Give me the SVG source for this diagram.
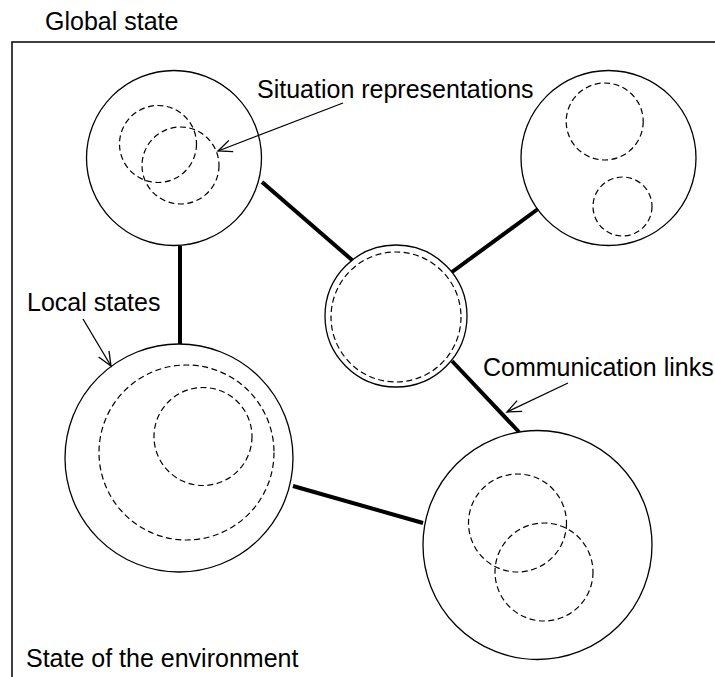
<svg xmlns="http://www.w3.org/2000/svg" width="715" height="677" viewBox="0 0 715 677">
<style>
.t{font-family:"Liberation Sans",Arial,sans-serif;font-size:25px;fill:#000}
.c{fill:none;stroke:#000;stroke-width:1.3}
.d{fill:none;stroke:#000;stroke-width:1.2;stroke-dasharray:6,3.5}
.l{stroke:#000;stroke-width:4;stroke-linecap:butt}
.a{stroke:#000;stroke-width:1.3;fill:none}
</style>
<defs>
<marker id="ah" viewBox="0 0 20 20" refX="18" refY="10" markerWidth="20" markerHeight="20" markerUnits="userSpaceOnUse" orient="auto">
<polyline points="4,4 18,10 4,16" fill="none" stroke="#000" stroke-width="1.3"/>
</marker>
</defs>
<rect x="0" y="0" width="715" height="677" fill="#fff"/>
<path d="M12,677 V42 H715" fill="none" stroke="#000" stroke-width="1.5"/>
<g id="connectors">
<line class="l" x1="180" y1="246" x2="180" y2="344"/>
<line class="l" x1="262" y1="182" x2="352" y2="260"/>
<line class="l" x1="538" y1="209" x2="452" y2="272"/>
<line class="l" x1="452" y1="361" x2="519" y2="432"/>
<line class="l" x1="293" y1="486" x2="423" y2="523"/>
<line class="a" x1="343" y1="103" x2="218" y2="151" marker-end="url(#ah)"/>
<line class="a" x1="83" y1="319" x2="111" y2="366" marker-end="url(#ah)"/>
<line class="a" x1="568" y1="383" x2="507" y2="412" marker-end="url(#ah)"/>
</g>
<g id="node-top-left">
<circle class="c" cx="174" cy="158" r="87.5"/>
<circle class="d" cx="158" cy="144" r="38.5"/>
<circle class="d" cx="180.5" cy="165.5" r="38.5"/>
</g>
<g id="node-top-right">
<circle class="c" cx="608.5" cy="158" r="87.5"/>
<circle class="d" cx="604.7" cy="121.5" r="38.5"/>
<circle class="d" cx="622.5" cy="206.5" r="29.5"/>
</g>
<g id="node-center">
<circle class="c" cx="396" cy="316" r="71"/>
<circle class="d" cx="396" cy="317" r="65"/>
</g>
<g id="node-bottom-left">
<circle class="c" cx="179" cy="458" r="114"/>
<circle class="d" cx="186.5" cy="452.5" r="87.5"/>
<circle class="d" cx="203" cy="436.5" r="49"/>
</g>
<g id="node-bottom-right">
<circle class="c" cx="537.5" cy="545" r="114.5"/>
<circle class="d" cx="517.5" cy="523" r="49"/>
<circle class="d" cx="544" cy="572" r="49"/>
</g>
<g id="labels">
<text class="t" x="45" y="30">Global state</text>
<text class="t" x="257" y="98">Situation representations</text>
<text class="t" x="27" y="311">Local states</text>
<text class="t" x="483" y="376">Communication links</text>
<text class="t" x="26" y="667">State of the environment</text>
</g>
</svg>
